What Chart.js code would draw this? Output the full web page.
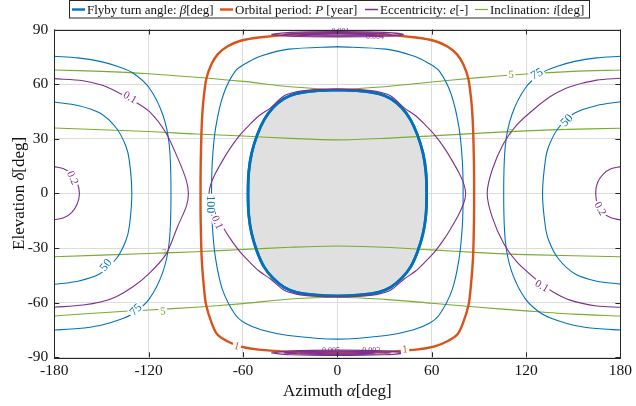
<!DOCTYPE html>
<html>
<head>
<meta charset="utf-8">
<script src="https://cdn.jsdelivr.net/npm/chart.js@4.4.1/dist/chart.umd.min.js"></script>
<style>
html, body { margin: 0; padding: 0; background: #fff; }
</style>
</head>
<body>
<canvas id="myChart" width="636" height="406"></canvas>
<script>
// axes
const xTickValues = [-180, -120, -60, 0, 60, 120, 180];
const yTickValues = [-90, -60, -30, 0, 30, 60, 90];

// flyby turn angle contours [azimuth, elevation]
const turnRegion = [[0,56.8],[14,56.3],[26,54.8],[34,52],[41,47],[46.5,40.5],[51,32],[54.5,22],[56.3,12],[56.8,0],[56.3,-12],[54.5,-22],[51,-32],[46.5,-40.5],[41,-46.5],[34,-51.5],[26,-54.3],[14,-55.8],[0,-56.3],[-14,-55.8],[-26,-54.3],[-34,-51.5],[-41,-46.5],[-46.5,-40.5],[-51,-32],[-54.5,-22],[-56.3,-12],[-56.8,0],[-56.3,12],[-54.5,22],[-51,32],[-46.5,40.5],[-41,47],[-34,52],[-26,54.8],[-14,56.3],[0,56.8]];
const turn100 = [[0,80.6],[31,79.2],[48,75.6],[58,71.5],[65,67],[72.5,54.2],[77.4,36],[79.5,17.6],[80,0],[79.5,-17.6],[77.4,-36],[73,-53],[65,-66.5],[58.5,-71.3],[48,-75],[31,-78],[0,-80],[-31,-78],[-48,-75],[-58.5,-71.3],[-65,-66.5],[-73,-53],[-77.4,-36],[-79.5,-17.6],[-80,0],[-79.5,17.6],[-77.4,36],[-72.5,54.2],[-65,67],[-58,71.5],[-48,75.6],[-31,79.2],[0,80.6]];
const turn75Left = [[-180,75.3],[-165,74.4],[-151,72.5],[-140,69.8],[-130,66.1],[-119.6,57.9],[-111,43.2],[-106.9,26.7],[-105.8,0],[-106.9,-26.7],[-111,-43.2],[-119.6,-57.9],[-130,-66.1],[-140,-69.8],[-151,-72.5],[-165,-74.2],[-180,-75]];
const turn75Right = [[180,75.3],[165,74.4],[151,72.5],[140,69.8],[130,66.1],[119.6,57.9],[111,43.2],[106.9,26.7],[105.8,0],[106.9,-26.7],[111,-43.2],[119.6,-57.9],[130,-66.1],[140,-69.8],[151,-72.5],[165,-74.2],[180,-75]];
const turn50Left = [[-180,50.2],[-165,48.3],[-151,44.1],[-140.6,35.9],[-134.5,26],[-132.2,17.6],[-130.7,0],[-132.2,-17.6],[-134.5,-26],[-140.6,-35.9],[-151,-44.1],[-165,-48.2],[-180,-49.9]];
const turn50Right = [[180,50.3],[165,48.3],[151,44.1],[140.6,35.9],[134.5,26],[132.2,17.6],[130.5,0],[132.2,-17.6],[134.5,-26],[140.6,-35.9],[151,-44.1],[165,-48.2],[180,-49.8]];

// orbital period P = 1 year
const periodOne = [[0,88],[30,87.2],[50,85.6],[62,83.7],[70,80.7],[76,76.5],[80,71],[83.3,63],[85.3,50],[86.3,36],[86.9,15],[87,0],[86.9,-15],[86.3,-35],[85,-50],[83.5,-61],[80,-71],[76.3,-77.5],[70,-81.2],[62,-84],[50,-85.8],[30,-87],[0,-87.4],[-30,-87],[-50,-85.8],[-62,-84],[-70,-81.2],[-76.3,-77.5],[-80,-71],[-83.5,-61],[-85,-50],[-86.3,-35],[-86.9,-15],[-87,0],[-86.9,15],[-86.3,36],[-85.3,50],[-83.3,63],[-80,71],[-76,76.5],[-70,80.7],[-62,83.7],[-50,85.6],[-30,87.2],[0,88]];

// eccentricity
const eccInner = [[0,57.3],[14,57],[26,55.8],[34,53.5],[42.5,47],[50,42.5],[56,37.5],[62,32],[68,25],[73,18],[77.5,11],[80.5,5],[81.6,0],[80.5,-5],[77.5,-11],[73,-18],[68,-25],[62,-32],[56,-37.5],[50,-42.5],[42.5,-47],[34,-53],[26,-55.3],[14,-56.5],[0,-56.8],[-14,-56.5],[-26,-55.3],[-34,-53],[-42.5,-47],[-50,-42.5],[-56,-37.5],[-62,-32],[-68,-25],[-73,-18],[-77.5,-11],[-80.5,-5],[-81.6,0],[-80.5,5],[-77.5,11],[-73,18],[-68,25],[-62,32],[-56,37.5],[-50,42.5],[-42.5,47],[-34,53.5],[-26,55.8],[-14,57],[0,57.3]];
const eccOuterLeft = [[-180,63],[-161.7,61.9],[-150,59.5],[-140.6,56],[-130,51],[-119.6,45],[-109,33.2],[-100.6,17.6],[-96,7],[-94.7,0],[-96,-7],[-101.5,-18],[-109,-33.5],[-119.6,-43.9],[-130,-51.3],[-140.6,-56.7],[-150,-59.5],[-161.7,-61.3],[-180,-62.5]];
const eccOuterRight = [[180,63.2],[165,62.2],[148,58.6],[137,54],[126.9,47.6],[114,37.5],[105.8,27.5],[98.5,13],[95.3,0],[98.5,-13],[105.8,-27.5],[114,-37.5],[126.9,-47.6],[137,-54],[148,-58.6],[165,-61.8],[180,-62.5]];
const ecc02Left = [[-180,14.7],[-174,13.5],[-169,10.5],[-165.5,6],[-164,0],[-165.5,-6],[-169,-10.5],[-174,-13.4],[-180,-14.5]];
const ecc02Right = [[180,14.7],[174,13.5],[169,10.5],[165.5,6],[164.3,0],[165.5,-6],[169,-10.5],[174,-13.4],[180,-14.6]];
const eccTopA = [[-42,87.3],[-30,88.4],[0,88.8],[30,88.4],[42,87.3],[30,86.3],[0,86.0],[-30,86.3],[-42,87.3]];
const eccTopB = [[-34,87.3],[-20,88.1],[0,88.3],[20,88.1],[34,87.3],[20,86.6],[0,86.4],[-20,86.6],[-34,87.3]];
const eccTopC = [[-24,87.4],[0,87.9],[24,87.4],[0,86.9],[-24,87.4]];
const eccBotA = [[-42,-87.6],[-30,-86.5],[0,-86.1],[30,-86.5],[42,-87.6],[30,-88.6],[0,-89],[-30,-88.6],[-42,-87.6]];
const eccBotB = [[-34,-87.6],[-20,-86.8],[0,-86.6],[20,-86.8],[34,-87.6],[20,-88.3],[0,-88.5],[-20,-88.3],[-34,-87.6]];
const eccBotC = [[-24,-87.6],[0,-87.1],[24,-87.6],[0,-88.1],[-24,-87.6]];

// inclination
const inclUpper5 = [[-180,67.8],[-150,67],[-120,65.7],[-90,63.8],[-60,61.5],[-30,58.6],[0,57.2],[30,58.6],[60,61.2],[90,63.6],[120,65.6],[150,67],[180,67.8]];
const inclUpperInner = [[-180,35.9],[-120,34],[-90,32.6],[-60,31.5],[-30,30.2],[0,29.4],[30,30.2],[60,31.6],[100,33.5],[140,35],[180,35.8]];
const inclLowerInner = [[-180,-34.8],[-120,-33],[-90,-32],[-60,-30.8],[-30,-29.6],[0,-28.9],[30,-29.6],[60,-31],[90,-32.5],[120,-33.6],[180,-34.8]];
const inclLower5 = [[-180,-67.3],[-150,-65.5],[-120,-64],[-90,-62.5],[-60,-60.5],[-30,-58],[0,-57],[30,-58.2],[60,-60.3],[90,-62.5],[120,-64.5],[150,-66.3],[180,-67.3]];

const BLUE = '#0072BD', ORANGE = '#D95319', PURPLE = '#7E2F8E', GREEN = '#77AC30';
const SERIF = '"Liberation Serif", "DejaVu Serif", serif';

// inline contour labels
const contourLabels = [
    { t: '50', a: -147, d: -39.5, r: -50, c: BLUE, s: 12 },
    { t: '50', a: 146, d: 40, r: -45, c: BLUE, s: 12 },
    { t: '75', a: -128, d: -64, r: -45, c: BLUE, s: 12 },
    { t: '75', a: 127, d: 65.5, r: -28, c: BLUE, s: 12 },
    { t: '100', a: -81, d: -6, r: 90, c: BLUE, s: 12 },
    { t: '0.1', a: -132, d: 52.5, r: 30, c: PURPLE, s: 11 },
    { t: '0.1', a: 130, d: -51, r: 30, c: PURPLE, s: 11 },
    { t: '0.1', a: -76.5, d: -16, r: 65, c: PURPLE, s: 11 },
    { t: '0.2', a: -168.5, d: 8.5, r: 65, c: PURPLE, s: 11 },
    { t: '0.2', a: 167, d: -8.5, r: 60, c: PURPLE, s: 11 },
    { t: '5', a: 110.5, d: 65, r: -3, c: GREEN, s: 11 },
    { t: '5', a: -111, d: -65, r: -3, c: GREEN, s: 11 },
    { t: '7', a: 110.5, d: 33.3, r: -3, c: GREEN, s: 9 },
    { t: '7', a: -110, d: -32.6, r: -3, c: GREEN, s: 9 },
    { t: '1', a: -64, d: -84, r: 15, c: ORANGE, s: 11 },
    { t: '1', a: 43, d: -85.8, r: -5, c: ORANGE, s: 11 },
    { t: '0.001', a: 2, d: 88.6, r: 0, c: PURPLE, s: 8 },
    { t: '0.004', a: 24, d: 85.9, r: 0, c: PURPLE, s: 8 },
    { t: '0.005', a: -4, d: -86.3, r: 0, c: PURPLE, s: 8 },
    { t: '0.003', a: 21.5, d: -86.3, r: 0, c: PURPLE, s: 8 }
];

const pts = arr => arr.map(p => ({ x: p[0], y: p[1] }));
function line(arr, color, width, order) {
    return { data: pts(arr), borderColor: color, borderWidth: width, showLine: true,
             pointRadius: 0, tension: 0.3, fill: false, order: order };
}

const datasets = [
    Object.assign(line(turnRegion, BLUE, 2.6, 9), { fill: 'shape', backgroundColor: '#e0e0e0' }),
    line(inclUpper5, GREEN, 1.1, 8),
    line(inclUpperInner, GREEN, 1.1, 8),
    line(inclLowerInner, GREEN, 1.1, 8),
    line(inclLower5, GREEN, 1.1, 8),
    line(turn100, BLUE, 1.1, 6),
    line(turn75Left, BLUE, 1.1, 6),
    line(turn75Right, BLUE, 1.1, 6),
    line(turn50Left, BLUE, 1.1, 6),
    line(turn50Right, BLUE, 1.1, 6),
    line(eccInner, PURPLE, 1.1, 5),
    line(eccOuterLeft, PURPLE, 1.1, 5),
    line(eccOuterRight, PURPLE, 1.1, 5),
    line(ecc02Left, PURPLE, 1.1, 5),
    line(ecc02Right, PURPLE, 1.1, 5),
    line(periodOne, ORANGE, 2.4, 4),
    line(eccTopA, PURPLE, 1.2, 3),
    line(eccTopB, PURPLE, 1.2, 3),
    line(eccTopC, PURPLE, 1.2, 3),
    line(eccBotA, PURPLE, 1.2, 3),
    line(eccBotB, PURPLE, 1.2, 3),
    line(eccBotC, PURPLE, 1.2, 3)
];
// redraw the thick turn-angle boundary above the fill
datasets.push(line(turnRegion, BLUE, 2.8, 7));

function richText(ctx, segs, x, y, size, align) {
    const fonts = segs.map(s => (s[1] ? 'italic ' : '') + size + 'px ' + SERIF);
    let w = 0;
    segs.forEach((s, i) => { ctx.font = fonts[i]; w += ctx.measureText(s[0]).width; });
    let cx = align === 'center' ? x - w / 2 : x;
    segs.forEach((s, i) => { ctx.font = fonts[i]; ctx.fillText(s[0], cx, y); cx += ctx.measureText(s[0]).width; });
}

const labelPlugin = {
    id: 'labels',
    afterDatasetsDraw(chart) {
        const { ctx, scales: { x, y } } = chart;
        ctx.save();
        contourLabels.forEach(l => {
            ctx.save();
            ctx.translate(x.getPixelForValue(l.a), y.getPixelForValue(l.d));
            ctx.rotate(l.r * Math.PI / 180);
            ctx.font = l.s + 'px ' + SERIF;
            const w = ctx.measureText(l.t).width;
            ctx.fillStyle = '#fff';
            if (l.s > 9) ctx.fillRect(-w / 2 - 1.5, -l.s * 0.42, w + 3, l.s * 0.84);
            ctx.fillStyle = l.c;
            ctx.textAlign = 'center';
            ctx.textBaseline = 'middle';
            ctx.fillText(l.t, 0, 0);
            ctx.restore();
        });
        ctx.restore();
    }
};

const framePlugin = {
    id: 'frame',
    afterDraw(chart) {
        const { ctx, chartArea: ca, scales: { x, y } } = chart;
        ctx.save();
        ctx.strokeStyle = '#262626';
        ctx.lineWidth = 1;
        ctx.beginPath();
        xTickValues.forEach(v => {
            const px = Math.round(x.getPixelForValue(v)) + 0.5;
            ctx.moveTo(px, ca.bottom); ctx.lineTo(px, ca.bottom - 5);
            ctx.moveTo(px, ca.top); ctx.lineTo(px, ca.top + 5);
        });
        yTickValues.forEach(v => {
            const py = Math.round(y.getPixelForValue(v)) + 0.5;
            ctx.moveTo(ca.left, py); ctx.lineTo(ca.left + 5, py);
            ctx.moveTo(ca.right, py); ctx.lineTo(ca.right - 5, py);
        });
        ctx.stroke();
        ctx.strokeRect(Math.round(ca.left) + 0.5, Math.round(ca.top) + 0.5,
                       Math.round(ca.width), Math.round(ca.height));

        // axis titles
        ctx.fillStyle = '#111';
        ctx.textBaseline = 'alphabetic';
        richText(ctx, [['Azimuth ', false], ['α', true], ['[deg]', false]], (ca.left + ca.right) / 2, 396, 17, 'center');
        ctx.save();
        ctx.translate(24, (ca.top + ca.bottom) / 2);
        ctx.rotate(-Math.PI / 2);
        richText(ctx, [['Elevation ', false], ['δ', true], ['[deg]', false]], 0, 0, 17, 'center');
        ctx.restore();

        // legend
        ctx.fillStyle = '#fff';
        ctx.fillRect(69.5, 0.5, 520, 17.5);
        ctx.strokeStyle = '#262626';
        ctx.strokeRect(69.5, 0.5, 520, 17.5);
        const items = [
            { c: BLUE, w: 2.4, x: 72, segs: [['Flyby turn angle: ', false], ['β', true], ['[deg]', false]] },
            { c: ORANGE, w: 2.4, x: 220, segs: [['Orbital period: ', false], ['P', true], [' [year]', false]] },
            { c: PURPLE, w: 1.5, x: 365, segs: [['Eccentricity: ', false], ['e', true], ['[-]', false]] },
            { c: GREEN, w: 1.2, x: 475, segs: [['Inclination: ', false], ['i', true], ['[deg]', false]] }
        ];
        items.forEach(it => {
            ctx.strokeStyle = it.c;
            ctx.lineWidth = it.w;
            ctx.beginPath();
            ctx.moveTo(it.x, 9.5); ctx.lineTo(it.x + 13, 9.5);
            ctx.stroke();
            ctx.fillStyle = '#111';
            richText(ctx, it.segs, it.x + 15, 13.5, 13, 'left');
        });
        ctx.restore();
    }
};

const ctx1 = document.getElementById('myChart').getContext('2d');
const myChart1 = new Chart(ctx1, {
    type: 'scatter',
    data: { datasets: datasets },
    options: {
        responsive: false,
        animation: false,
        events: [],
        layout: { padding: { top: 29.5, right: 11.7, left: 0, bottom: 0 } },
        plugins: { legend: { display: false }, tooltip: { enabled: false } },
        scales: {
            x: {
                type: 'linear', min: -180, max: 180,
                afterBuildTicks: s => { s.ticks = xTickValues.map(v => ({ value: v })); },
                afterFit: s => { s.height = 48.7; },
                grid: { color: '#dcdcdc', drawTicks: false },
                border: { display: false },
                ticks: { padding: 4, maxRotation: 0, autoSkip: false, color: '#111',
                         font: { family: SERIF, size: 15.5 } }
            },
            y: {
                type: 'linear', min: -90, max: 90,
                afterBuildTicks: s => { s.ticks = yTickValues.map(v => ({ value: v })); },
                afterFit: s => { s.width = 54.3; },
                grid: { color: '#dcdcdc', drawTicks: false },
                border: { display: false },
                ticks: { padding: 6, autoSkip: false, color: '#111',
                         font: { family: SERIF, size: 15.5 } }
            }
        }
    },
    plugins: [labelPlugin, framePlugin]
});
</script>
</body>
</html>
